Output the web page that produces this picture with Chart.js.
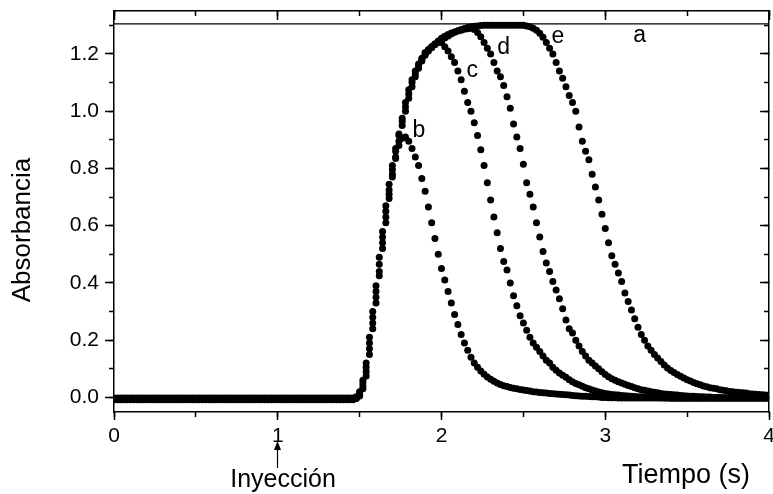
<!DOCTYPE html>
<html lang="es">
<head>
<meta charset="utf-8">
<title>Absorbancia frente al tiempo</title>
<script src="https://cdn.jsdelivr.net/npm/chart.js@4.4.1/dist/chart.umd.min.js"></script>
<style>
  html, body { margin: 0; padding: 0; background: #fff; }
  #grafico { display: block; }
</style>
</head>
<body>
<canvas id="grafico" width="773" height="494"></canvas>
<script>
// Tiempo de muestreo (s): una lectura cada 0.02 s, de 0 a 4 s
const tiempo = Array.from({ length: 201 }, (_, i) => i / 50);

// Curva a: nivel máximo (línea horizontal)
const tiempoA = [0, 4];
const absA = [1.305, 1.305];

// Curvas b-e, una fila = 0.2 s (10 lecturas)
const absB = [
  -0.008,-0.008,-0.008,-0.008,-0.008,-0.008,-0.008,-0.008,-0.008,-0.008, // 0.0
  -0.008,-0.008,-0.008,-0.008,-0.008,-0.008,-0.008,-0.008,-0.008,-0.008, // 0.2
  -0.008,-0.008,-0.008,-0.008,-0.008,-0.008,-0.008,-0.008,-0.008,-0.008, // 0.4
  -0.008,-0.008,-0.008,-0.008,-0.008,-0.008,-0.008,-0.008,-0.008,-0.008, // 0.6
  -0.008,-0.008,-0.008,-0.008,-0.008,-0.008,-0.008,-0.008,-0.008,-0.008, // 0.8
  -0.008,-0.008,-0.008,-0.008,-0.008,-0.008,-0.008,-0.008,-0.008,-0.008, // 1.0
  -0.008,-0.008,-0.008,-0.008,-0.008,-0.008,-0.008,-0.008,-0.008,-0.008, // 1.2
  -0.008,-0.008,-0.008,-0.008,-0.004,0.01,0.04,0.09,0.17,0.26,           // 1.4
  0.35,0.44,0.54,0.63,0.71,0.78,0.84,0.88,0.905,0.91,                    // 1.6
  0.895,0.87,0.84,0.81,0.765,0.72,0.665,0.61,0.555,0.50,                 // 1.8
  0.45,0.41,0.37,0.33,0.29,0.255,0.22,0.19,0.165,0.14,                   // 2.0
  0.12,0.105,0.092,0.081,0.071,0.063,0.056,0.05,0.045,0.041,             // 2.2
  0.038,0.035,0.032,0.03,0.028,0.026,0.024,0.022,0.02,0.019,             // 2.4
  0.017,0.016,0.015,0.014,0.013,0.012,0.011,0.01,0.009,0.008,            // 2.6
  0.007,0.006,0.005,0.004,0.004,0.003,0.002,0.002,0.001,0,               // 2.8
  0,-0.001,-0.001,-0.001,-0.002,-0.002,-0.002,-0.002,-0.002,-0.002,      // 3.0
  -0.002,-0.002,-0.002,-0.002,-0.002,-0.002,-0.002,-0.002,-0.002,-0.002, // 3.2
  -0.002,-0.002,-0.002,-0.002,-0.002,-0.002,-0.002,-0.002,-0.002,-0.002, // 3.4
  -0.002,-0.002,-0.002,-0.002,-0.002,-0.002,-0.002,-0.002,-0.002,-0.002, // 3.6
  -0.002,-0.002,-0.002,-0.002,-0.002,-0.002,-0.002,-0.002,-0.002,-0.002, // 3.8
  -0.002                                                                  // 4.0
];

const absC = [
  -0.004,-0.004,-0.004,-0.004,-0.004,-0.004,-0.004,-0.004,-0.004,-0.004,
  -0.004,-0.004,-0.004,-0.004,-0.004,-0.004,-0.004,-0.004,-0.004,-0.004,
  -0.004,-0.004,-0.004,-0.004,-0.004,-0.004,-0.004,-0.004,-0.004,-0.004,
  -0.004,-0.004,-0.004,-0.004,-0.004,-0.004,-0.004,-0.004,-0.004,-0.004,
  -0.004,-0.004,-0.004,-0.004,-0.004,-0.004,-0.004,-0.004,-0.004,-0.004,
  -0.004,-0.004,-0.004,-0.004,-0.004,-0.004,-0.004,-0.004,-0.004,-0.004,
  -0.004,-0.004,-0.004,-0.004,-0.004,-0.004,-0.004,-0.004,-0.004,-0.004,
  -0.004,-0.004,-0.004,-0.004,0,0.02,0.06,0.12,0.21,0.30,
  0.39,0.49,0.58,0.67,0.745,0.81,0.87,0.92,0.975,1.03,
  1.075,1.11,1.14,1.165,1.185,1.205,1.215,1.225,1.235,1.24,
  1.24,1.225,1.21,1.19,1.17,1.14,1.11,1.07,1.03,1.00,
  0.96,0.915,0.865,0.81,0.75,0.69,0.63,0.575,0.52,0.475,
  0.445,0.40,0.355,0.32,0.285,0.26,0.235,0.21,0.19,0.175,
  0.16,0.145,0.13,0.12,0.105,0.095,0.085,0.077,0.07,0.062,
  0.055,0.049,0.044,0.039,0.034,0.03,0.026,0.022,0.019,0.016,
  0.014,0.012,0.01,0.009,0.008,0.007,0.006,0.005,0.004,0.003,
  0.002,0.002,0.001,0.001,0,0,-0.001,-0.001,-0.002,-0.002,
  -0.003,-0.003,-0.003,-0.003,-0.003,-0.003,-0.003,-0.003,-0.003,-0.003,
  -0.003,-0.003,-0.003,-0.003,-0.003,-0.003,-0.003,-0.003,-0.003,-0.003,
  -0.003,-0.003,-0.003,-0.003,-0.003,-0.003,-0.003,-0.003,-0.003,-0.003,
  -0.003
];

const absD = [
  -0.002,-0.002,-0.002,-0.002,-0.002,-0.002,-0.002,-0.002,-0.002,-0.002,
  -0.002,-0.002,-0.002,-0.002,-0.002,-0.002,-0.002,-0.002,-0.002,-0.002,
  -0.002,-0.002,-0.002,-0.002,-0.002,-0.002,-0.002,-0.002,-0.002,-0.002,
  -0.002,-0.002,-0.002,-0.002,-0.002,-0.002,-0.002,-0.002,-0.002,-0.002,
  -0.002,-0.002,-0.002,-0.002,-0.002,-0.002,-0.002,-0.002,-0.002,-0.002,
  -0.002,-0.002,-0.002,-0.002,-0.002,-0.002,-0.002,-0.002,-0.002,-0.002,
  -0.002,-0.002,-0.002,-0.002,-0.002,-0.002,-0.002,-0.002,-0.002,-0.002,
  -0.002,-0.002,-0.002,-0.002,0.002,0.015,0.05,0.105,0.19,0.28,
  0.37,0.465,0.56,0.65,0.725,0.795,0.86,0.915,0.965,1.015,
  1.06,1.10,1.13,1.16,1.18,1.20,1.215,1.225,1.235,1.245,
  1.255,1.262,1.268,1.273,1.277,1.28,1.283,1.286,1.288,1.29,
  1.285,1.275,1.26,1.24,1.22,1.20,1.17,1.14,1.12,1.09,
  1.05,1.01,0.955,0.91,0.87,0.815,0.75,0.71,0.665,0.61,
  0.56,0.51,0.47,0.44,0.405,0.375,0.345,0.31,0.27,0.24,
  0.225,0.20,0.18,0.16,0.145,0.13,0.12,0.11,0.10,0.09,
  0.08,0.072,0.065,0.06,0.055,0.05,0.046,0.042,0.038,0.034,
  0.03,0.027,0.025,0.022,0.02,0.018,0.016,0.014,0.012,0.011,
  0.01,0.009,0.008,0.007,0.006,0.005,0.004,0.004,0.003,0.002,
  0.002,0.001,0.001,0,0,0,-0.001,-0.001,-0.001,-0.001,
  -0.001,-0.001,-0.001,-0.001,-0.001,-0.001,-0.001,-0.001,-0.001,-0.001,
  -0.001
];

const absE = [
  -0.006,-0.006,-0.006,-0.006,-0.006,-0.006,-0.006,-0.006,-0.006,-0.006,
  -0.006,-0.006,-0.006,-0.006,-0.006,-0.006,-0.006,-0.006,-0.006,-0.006,
  -0.006,-0.006,-0.006,-0.006,-0.006,-0.006,-0.006,-0.006,-0.006,-0.006,
  -0.006,-0.006,-0.006,-0.006,-0.006,-0.006,-0.006,-0.006,-0.006,-0.006,
  -0.006,-0.006,-0.006,-0.006,-0.006,-0.006,-0.006,-0.006,-0.006,-0.006,
  -0.006,-0.006,-0.006,-0.006,-0.006,-0.006,-0.006,-0.006,-0.006,-0.006,
  -0.006,-0.006,-0.006,-0.006,-0.006,-0.006,-0.006,-0.006,-0.006,-0.006,
  -0.006,-0.006,-0.006,-0.006,-0.002,0.005,0.03,0.075,0.15,0.24,
  0.33,0.425,0.52,0.61,0.695,0.77,0.835,0.895,0.95,1.0,
  1.045,1.085,1.12,1.15,1.175,1.195,1.21,1.222,1.232,1.24,
  1.248,1.256,1.263,1.27,1.276,1.281,1.285,1.289,1.292,1.295,
  1.297,1.298,1.299,1.30,1.30,1.30,1.30,1.30,1.30,1.30,
  1.30,1.30,1.30,1.30,1.30,1.30,1.298,1.295,1.29,1.283,
  1.272,1.258,1.24,1.22,1.20,1.17,1.14,1.115,1.085,1.055,
  1.03,1.00,0.945,0.895,0.86,0.83,0.78,0.735,0.69,0.64,
  0.59,0.54,0.495,0.465,0.435,0.405,0.365,0.335,0.305,0.275,
  0.245,0.22,0.20,0.18,0.165,0.15,0.138,0.125,0.113,0.103,
  0.094,0.087,0.08,0.074,0.068,0.062,0.057,0.052,0.048,0.044,
  0.04,0.037,0.034,0.032,0.03,0.027,0.025,0.023,0.021,0.02,
  0.018,0.017,0.016,0.015,0.013,0.012,0.011,0.01,0.009,0.008,
  0.007
];

// Marcas con rótulo
const ticksY = [0, 0.2, 0.4, 0.6, 0.8, 1.0, 1.2];
const ticksX = [0, 1, 2, 3, 4];

const series = { b: absB, c: absC, d: absD, e: absE };
for (const k in series) {
  if (series[k].length !== tiempo.length) throw new Error('serie ' + k + ': ' + series[k].length);
}

// Rótulos dentro del gráfico
const letras = ['a', 'b', 'c', 'd', 'e'];
const letraT = [3.171, 1.823, 2.152, 2.341, 2.671];
const letraA = [1.242, 0.910, 1.119, 1.200, 1.238];
const inyeccion = 1;

const familia = '"Liberation Sans", Arial, sans-serif';
const negro = '#000';
Chart.defaults.font.family = familia;
Chart.defaults.color = negro;

const puntos = serie => tiempo.map((t, i) => ({ x: t, y: serie[i] }));

function eje(posicion, min, max, paso, largo, peso, grosor, borde) {
  const horizontal = posicion === 'top' || posicion === 'bottom';
  return {
    type: 'linear',
    axis: horizontal ? 'x' : 'y',
    position: posicion,
    min, max,
    weight: peso,
    afterFit: s => {
      if (horizontal) s.height = grosor; else s.width = grosor;
      s.paddingLeft = s.paddingRight = s.paddingTop = s.paddingBottom = 0;
    },
    border: { display: borde, color: negro, width: 1.5 },
    grid: { drawOnChartArea: false, tickLength: largo, tickColor: negro, tickWidth: 1.5 },
    ticks: { stepSize: paso, display: false, autoSkip: false, includeBounds: false, maxRotation: 0 }
  };
}

const yMin = -0.051, yMax = 1.35;

const ejeX = eje('bottom', 0, 4, 1, 8, 1, 82, true);
ejeX.ticks = {
  stepSize: 1, autoSkip: false, maxRotation: 0, padding: 4,
  font: { size: 21 },
  callback: v => ticksX.includes(v) ? String(v) : ''
};
const ejeY = eje('left', yMin, yMax, 0.2, 9, 1, 114, true);
ejeY.ticks = {
  stepSize: 0.2, autoSkip: false, includeBounds: false, padding: 6,
  font: { size: 21 },
  callback: v => ticksY.some(t => Math.abs(t - v) < 1e-6) ? v.toFixed(1) : ''
};

const rotulos = {
  id: 'rotulos',
  afterDraw(chart) {
    const { ctx } = chart;
    const x = chart.scales.x, y = chart.scales.y;
    ctx.save();
    ctx.fillStyle = negro;
    ctx.strokeStyle = negro;
    ctx.textAlign = 'left';
    ctx.textBaseline = 'alphabetic';

    ctx.font = '23px ' + familia;
    letras.forEach((l, i) => ctx.fillText(l, x.getPixelForValue(letraT[i]), y.getPixelForValue(letraA[i])));

    ctx.font = '27px ' + familia;
    ctx.fillText('Tiempo (s)', 622, 483);

    ctx.save();
    ctx.translate(23, 230);
    ctx.rotate(-Math.PI / 2);
    ctx.textAlign = 'center';
    ctx.textBaseline = 'middle';
    ctx.font = '26px ' + familia;
    ctx.fillText('Absorbancia', 0, 0);
    ctx.restore();

    // flecha del momento de la inyección
    const xi = Math.round(x.getPixelForValue(inyeccion)) - 0.5;
    ctx.lineWidth = 1.2;
    ctx.beginPath();
    ctx.moveTo(xi, 448);
    ctx.lineTo(xi, 468);
    ctx.stroke();
    ctx.beginPath();
    ctx.moveTo(xi, 441);
    ctx.lineTo(xi - 3.5, 450);
    ctx.lineTo(xi + 3.5, 450);
    ctx.closePath();
    ctx.fill();

    ctx.font = '25px ' + familia;
    ctx.textAlign = 'center';
    ctx.fillText('Inyección', 283, 487);
    ctx.restore();
  }
};

const estiloPuntos = { pointRadius: 3.5, pointBorderWidth: 0, pointBackgroundColor: negro, backgroundColor: negro, borderColor: negro, clip: 0 };

new Chart(document.getElementById('grafico'), {
  type: 'scatter',
  data: {
    datasets: [
      { label: 'a', data: tiempoA.map((t, i) => ({ x: t, y: absA[i] })), showLine: true, pointRadius: 0, borderWidth: 1.2, borderColor: negro, clip: 0 },
      { label: 'b', data: puntos(absB), ...estiloPuntos },
      { label: 'c', data: puntos(absC), ...estiloPuntos },
      { label: 'd', data: puntos(absD), ...estiloPuntos },
      { label: 'e', data: puntos(absE), ...estiloPuntos }
    ]
  },
  options: {
    responsive: false,
    animation: false,
    layout: { padding: 0 },
    plugins: { legend: { display: false }, tooltip: { enabled: false } },
    scales: {
      x: ejeX,
      xMenor: eje('bottom', 0, 4, 0.5, 5, 0, 0, false),
      xSup: eje('top', 0, 4, 1, -9, 1, 11, true),
      xSupMenor: eje('top', 0, 4, 0.5, -5, 0, 0, false),
      y: ejeY,
      yMenor: eje('left', yMin, yMax, 0.1, 5, 0, 0, false),
      yDer: eje('right', yMin, yMax, 0.2, -9, 1, 3, true),
      yDerMenor: eje('right', yMin, yMax, 0.1, -5, 0, 0, false)
    }
  },
  plugins: [rotulos]
});
</script>
</body>
</html>
